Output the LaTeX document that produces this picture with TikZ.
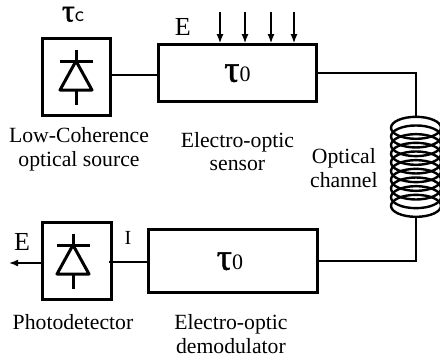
\documentclass[tikz,border=0pt]{standalone}
\usepackage{fontspec}
\setmainfont{Liberation Serif}
\newfontfamily\taufont[FakeBold=1.3]{Liberation Serif}
\usetikzlibrary{positioning,arrows.meta,calc}

\newcommand{\bigtau}[1]{{\fontsize{38}{38}\taufont\selectfont τ}{\fontsize{22}{22}\selectfont #1}}

\begin{document}
\begin{tikzpicture}[
    >={Latex[length=9pt,width=7pt]},
    x=1pt, y=1pt,
    block/.style    = {draw, line width=2.8pt, minimum width=158pt, minimum height=57pt,
                       inner sep=0pt, text depth=0pt},
    boxdiode/.style = {draw, line width=3pt, minimum width=68pt, minimum height=77pt, inner sep=0pt},
    caption/.style  = {align=center, font=\fontsize{21.7}{23.5}\selectfont, inner sep=0pt},
    wire/.style     = {line width=1.6pt},
    field/.style    = {line width=1.4pt, ->},
    diode/.pic = {
        \draw[line width=3pt] (0,27.5) -- (0,-27.5);
        \draw[line width=3pt] (-16.5,16) -- (16.5,16);
        \draw[line width=3pt, fill=white, line join=round] (0,16) -- (16,-13) -- (-16,-13) -- cycle;
        \draw[line width=3pt] (0,-13) -- (0,-27.5);
    }
]
\useasboundingbox (0,0) rectangle (440,-360);

% =========================================================
% TOP ROW
% =========================================================
\node[boxdiode] (source) at (76,-77) {};
\pic at (source.center) {diode};
\node[above=15pt of source, font=\fontsize{22}{22}\selectfont, inner sep=0pt, xshift=-3pt] (tauc) {{\fontsize{32}{32}\taufont\selectfont τ}\textsf{c}};
\node[caption, below=10.5pt of source, xshift=3pt] (sourcelabel) {Low-Coherence\\optical source};

\node[block, right=45.5pt of source, yshift=4pt] (sensor) {\bigtau{0}};
\node[caption, below=29pt of sensor] (sensorlabel) {Electro-optic\\sensor};
\node[above left=7pt and -34pt of sensor, font=\fontsize{26}{26}\selectfont, inner sep=0pt] (efield) {E};

% =========================================================
% COIL
% =========================================================
\node[minimum width=52pt, minimum height=100pt, inner sep=0pt] (coil) at (416,-167) {};
\foreach \turn in {0,...,9} {
    \draw[line width=2.4pt] ($(coil.north)+(0,-11-8.67*\turn)$) ellipse [x radius=25, y radius=11];
}
\node[caption, left=12pt of coil, yshift=-1pt] (coillabel) {Optical\\channel};

% =========================================================
% BOTTOM ROW
% =========================================================
\node[boxdiode, minimum width=69pt] (detector) at (77,-261) {};
\pic at ([xshift=-4pt]detector.center) {diode};
\node[caption, below=13.5pt of detector, xshift=-4pt] (detectorlabel) {Photodetector};

\node[block, minimum width=169pt, minimum height=63pt, right=34pt of detector] (demod) {\hspace*{-6pt}\bigtau{0}};
\node[caption, below=20.5pt of demod, xshift=-2pt] (demodlabel) {Electro-optic\\demodulator};

\node[font=\fontsize{20}{20}\selectfont, inner sep=0pt] (current) at (128,-238) {I};
\node[font=\fontsize{26}{26}\selectfont, inner sep=0pt] (outlabel) at (22,-242) {E};
\coordinate[left=32pt of detector.west, yshift=-2pt] (out);

% =========================================================
% ARROWS
% =========================================================
\foreach \x in {220,245,271,294} {
    \coordinate (top\x) at (\x,-12);
    \draw[field] (top\x) -- (top\x |- sensor.north);
}
\draw[wire] ([yshift=2pt]source.east) -- ([yshift=2pt]source.east -| sensor.west);
\draw[wire] (sensor.east) -| (coil.north);
\draw[wire] (coil.south) |- (demod.east);
\draw[wire] ([xshift=-4pt,yshift=-1pt]detector.east) -- ([yshift=-1pt]detector.east -| demod.west);
\draw[wire, ->] ([yshift=-2pt]detector.west) -- (out);

\end{tikzpicture}
\end{document}
